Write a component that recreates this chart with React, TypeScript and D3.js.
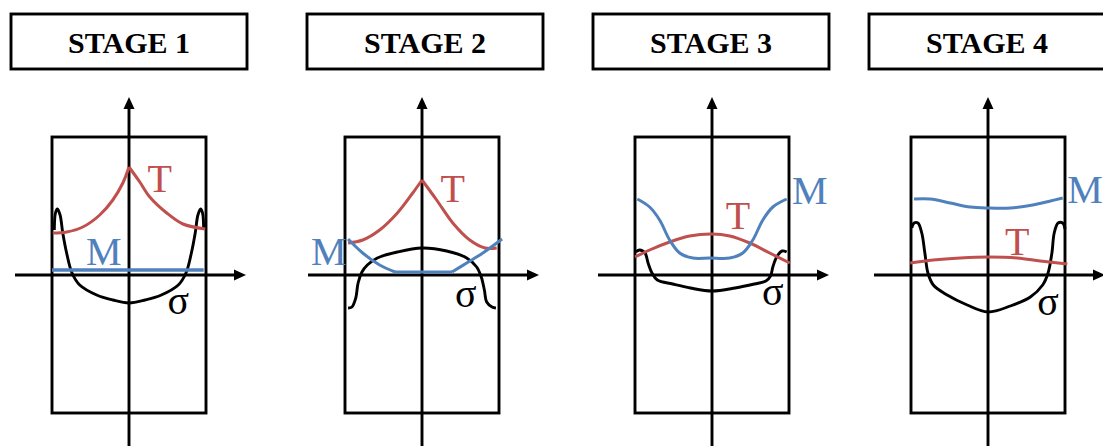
import React from "react";
import * as d3 from "d3";

type Pt = [number, number];

// Panel titles
const stageTitles = ["STAGE 1", "STAGE 2", "STAGE 3", "STAGE 4"];

// Curves in normalised section units: x from -1 (left wall) to 1 (right wall),
// y measured from the horizontal axis. Each curve is a list of smooth segments,
// split where the profile has a sharp corner.

// Temperature T
const tempStage1: Pt[][] = [
  [[-0.99, 0.42], [-0.81, 0.43], [-0.6, 0.48], [-0.38, 0.6], [-0.21, 0.75], [-0.08, 0.92], [0, 1.08]],
  [[0, 1.08], [0.14, 0.93], [0.27, 0.78], [0.49, 0.62], [0.7, 0.51], [0.99, 0.46]],
];
const tempStage2: Pt[][] = [
  [[-0.96, 0.32], [-0.77, 0.35], [-0.55, 0.45], [-0.32, 0.62], [-0.12, 0.82], [0, 0.95]],
  [[0, 0.95], [0.19, 0.75], [0.4, 0.52], [0.62, 0.35], [0.82, 0.27], [0.97, 0.27]],
];
const tempStage3: Pt[][] = [
  [[-1.0, 0.18], [-0.81, 0.25], [-0.55, 0.33], [-0.29, 0.39], [0, 0.41], [0.23, 0.39], [0.49, 0.32], [0.75, 0.22], [1.01, 0.12]],
];
const tempStage4: Pt[][] = [
  [[-1.01, 0.12], [-0.71, 0.15], [-0.36, 0.17], [0, 0.18], [0.38, 0.17], [0.68, 0.14], [1.03, 0.11]],
];

// Moisture M
const moistStage1: Pt[][] = [
  [[-1.0, 0.05], [0.97, 0.05]],
];
const moistStage2: Pt[][] = [
  [[-0.96, 0.36], [-0.77, 0.22], [-0.55, 0.1], [-0.35, 0.03]],
  [[-0.35, 0.03], [0.39, 0.03]],
  [[0.39, 0.03], [0.58, 0.12], [0.79, 0.22], [1.04, 0.36]],
];
const moistStage3: Pt[][] = [
  [[-0.97, 0.76], [-0.81, 0.68], [-0.68, 0.55], [-0.55, 0.35], [-0.42, 0.22], [-0.25, 0.17], [-0.03, 0.17],
   [0.23, 0.17], [0.4, 0.22], [0.53, 0.35], [0.66, 0.55], [0.79, 0.68], [0.97, 0.76]],
];
const moistStage4: Pt[][] = [
  [[-0.96, 0.76], [-0.75, 0.76], [-0.49, 0.72], [-0.23, 0.68], [0, 0.67], [0.29, 0.67], [0.58, 0.7], [0.81, 0.74], [0.97, 0.77]],
];

// Stress σ
const stressStage1: Pt[][] = [
  [[-0.97, 0.45], [-0.955, 0.62], [-0.93, 0.66], [-0.895, 0.6], [-0.86, 0.42], [-0.81, 0.22], [-0.74, 0.02],
   [-0.64, -0.1], [-0.42, -0.2], [-0.21, -0.25], [0, -0.28], [0.21, -0.25], [0.42, -0.2], [0.64, -0.1],
   [0.74, 0.02], [0.81, 0.22], [0.86, 0.42], [0.895, 0.6], [0.93, 0.66], [0.955, 0.62], [0.97, 0.45]],
];
const stressStage2: Pt[][] = [
  [[-0.96, -0.33], [-0.91, -0.32], [-0.86, -0.23], [-0.83, -0.08], [-0.78, 0.03], [-0.71, 0.1], [-0.58, 0.17],
   [-0.32, 0.23], [0, 0.27], [0.32, 0.24], [0.58, 0.17], [0.71, 0.08], [0.77, -0.02], [0.81, -0.15],
   [0.84, -0.27], [0.91, -0.32], [0.96, -0.33]],
];
const stressStage3: Pt[][] = [
  [[-0.99, 0.23], [-0.94, 0.25], [-0.87, 0.22], [-0.83, 0.12], [-0.78, 0.02], [-0.71, -0.05], [-0.51, -0.09],
   [-0.28, -0.13], [0, -0.16], [0.3, -0.13], [0.55, -0.09], [0.7, -0.06], [0.76, -0.01], [0.79, 0.08],
   [0.84, 0.18], [0.91, 0.24], [0.97, 0.23]],
];
const stressStage4: Pt[][] = [
  [[-0.99, 0.47], [-0.96, 0.52], [-0.91, 0.52], [-0.86, 0.42], [-0.82, 0.22], [-0.78, 0.02], [-0.71, -0.1],
   [-0.53, -0.2], [-0.27, -0.3], [0, -0.37], [0.29, -0.31], [0.55, -0.22], [0.71, -0.1], [0.78, 0.02],
   [0.83, 0.22], [0.86, 0.42], [0.91, 0.52], [0.97, 0.52], [1.0, 0.46]],
];

// Label anchors (start x, baseline y) in the same units
const tLabelAt: Pt[] = [[0.24, 0.83], [0.24, 0.73], [0.18, 0.46], [0.22, 0.2]];
const mLabelAt: Pt[] = [[-0.56, 0.1], [-1.44, 0.1], [1.04, 0.71], [1.03, 0.72]];
const sLabelAt: Pt[] = [[0.5, -0.39], [0.43, -0.32], [0.65, -0.3], [0.64, -0.4]];

const tempCurves = [tempStage1, tempStage2, tempStage3, tempStage4];
const moistCurves = [moistStage1, moistStage2, moistStage3, moistStage4];
const stressCurves = [stressStage1, stressStage2, stressStage3, stressStage4];

// Layout
const W = 1103;
const H = 446;
const panelCx = [129, 422, 712, 988];
const titleCx = [129, 425, 711, 987];
const halfW = 77;
const axisY = 275;
const unitPx = 100;
const RED = "#c0504d";
const BLUE = "#4f81bd";
const serif = "'Liberation Serif', 'DejaVu Serif', serif";
const STROKE = 2.9;

function Panel({ i }: { i: number }) {
  const cx = panelCx[i];
  const x = d3.scaleLinear().domain([-1, 1]).range([cx - halfW, cx + halfW]);
  const y = d3.scaleLinear().domain([-1, 1]).range([axisY + unitPx, axisY - unitPx]);
  const line = d3
    .line<Pt>()
    .x((d) => x(d[0]))
    .y((d) => y(d[1]))
    .curve(d3.curveCatmullRom.alpha(0.5));

  const rectTop = y(1.38);
  const rectBot = y(-1.38);
  const hLeft = cx - 114;
  const hRight = cx + 117;
  const vTop = 97;

  const tc = titleCx[i];
  const labelFont = 40;

  return (
    <g>
      {/* title box */}
      <rect x={tc - 118} y={14} width={236} height={55} fill="#fff" stroke="#000" strokeWidth={STROKE} />
      <text
        x={tc}
        y={53}
        textAnchor="middle"
        fontFamily={serif}
        fontWeight="bold"
        fontSize={30}
        fill="#000"
      >
        {stageTitles[i]}
      </text>

      {/* section outline */}
      <rect
        x={x(-1)}
        y={rectTop}
        width={x(1) - x(-1)}
        height={rectBot - rectTop}
        fill="none"
        stroke="#000"
        strokeWidth={STROKE}
      />

      {/* axes */}
      <line x1={hLeft} x2={hRight - 8} y1={axisY} y2={axisY} stroke="#000" strokeWidth={STROKE} />
      <path d={`M${hRight},${axisY} L${hRight - 12},${axisY - 5.5} L${hRight - 12},${axisY + 5.5} Z`} fill="#000" />
      <line x1={cx} x2={cx} y1={vTop + 8} y2={H} stroke="#000" strokeWidth={STROKE} />
      <path d={`M${cx},${vTop} L${cx - 5.5},${vTop + 12} L${cx + 5.5},${vTop + 12} Z`} fill="#000" />

      {/* profiles */}
      {stressCurves[i].map((seg, k) => (
        <path key={`s${k}`} d={line(seg) ?? ""} fill="none" stroke="#000" strokeWidth={STROKE} strokeLinejoin="round" />
      ))}
      {tempCurves[i].map((seg, k) => (
        <path key={`t${k}`} d={line(seg) ?? ""} fill="none" stroke={RED} strokeWidth={3} strokeLinejoin="round" />
      ))}
      {moistCurves[i].map((seg, k) => (
        <path key={`m${k}`} d={line(seg) ?? ""} fill="none" stroke={BLUE} strokeWidth={i === 0 ? 3.6 : 3} strokeLinejoin="round" />
      ))}

      {/* labels */}
      <text x={x(tLabelAt[i][0])} y={y(tLabelAt[i][1])} fontFamily={serif} fontSize={labelFont} fill={RED}>
        T
      </text>
      <text x={x(mLabelAt[i][0])} y={y(mLabelAt[i][1])} fontFamily={serif} fontSize={labelFont} fill={BLUE}>
        M
      </text>
      <text x={x(sLabelAt[i][0])} y={y(sLabelAt[i][1])} fontFamily={serif} fontSize={labelFont} fill="#000">
        σ
      </text>
    </g>
  );
}

export default function App() {
  return (
    <svg
      width={W}
      height={H}
      viewBox={`0 0 ${W} ${H}`}
      style={{ position: "absolute", left: 0, top: 0, background: "#fff" }}
    >
      <rect x={0} y={0} width={W} height={H} fill="#fff" />
      {stageTitles.map((_, i) => (
        <Panel key={i} i={i} />
      ))}
    </svg>
  );
}
